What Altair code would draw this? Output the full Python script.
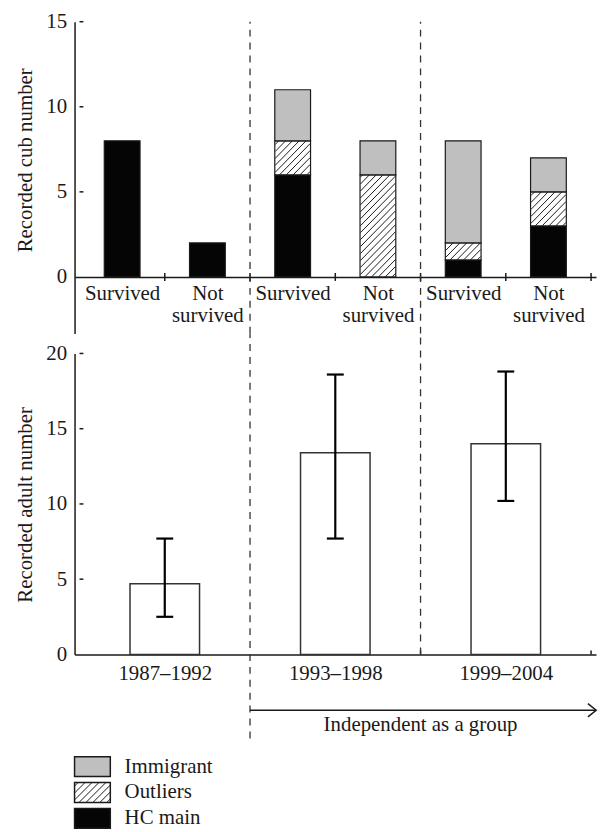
import json
import numpy as np
import pandas as pd
import altair as alt

FONT = "Liberation Serif"
FS = 21
INK = "#1a1a1a"

# ---------------- data ----------------
periods = ["1987–1992", "1993–1998", "1999–2004"]
outcomes = ["Survived", "Not survived"]
groups = ["HC main", "Outliers", "Immigrant"]          # stacking order, bottom -> top
group_fill = ["#050505", "#ffffff", "#bfbfbf"]

# recorded cub numbers, one value per (period, outcome) column
hc_main   = [8, 2, 6, 0, 1, 3]
outliers  = [0, 0, 2, 6, 1, 2]
immigrant = [0, 0, 3, 2, 6, 2]

# recorded adult numbers (mean and error bar ends)
adult_mean = [4.7, 13.4, 14.0]
adult_low  = [2.5, 7.7, 10.2]
adult_high = [7.7, 18.6, 18.8]

legend_items = ["Immigrant", "Outliers", "HC main"]
arrow_text = "Independent as a group"

# ---------------- geometry ----------------
TW, TH = 525, 314
T_YMIN, T_YMAX = -3.33, 15
tux = TW / 6.0
tuy = TH / (T_YMAX - T_YMIN)
CUB_BAR = 36

BW, BH = 525, 303
bux = BW / 3.0
buy = BH / 20.0
ADULT_BAR = 70

SPACING = 20
HATCH = 7.0


def hatch(xl, yb, w_px, h_px, ux, uy, sign=1.0):
    out = []
    for c in np.arange(-w_px + HATCH / 2, h_px, HATCH):
        xs = max(0.0, -c)
        xe = min(w_px, h_px - c)
        if xe - xs < 0.6:
            continue
        out.append({"hx1": xl + xs / ux, "hy1": yb + sign * (xs + c) / uy,
                    "hx2": xl + xe / ux, "hy2": yb + sign * (xe + c) / uy})
    return pd.DataFrame(out)


# ---------------- top panel ----------------
rows = []
for i in range(6):
    vals = [hc_main[i], outliers[i], immigrant[i]]
    for k, g in enumerate(groups):
        rows.append({"pos": i + 0.5, "group": g, "gorder": k, "value": vals[k]})
cub = pd.DataFrame(rows)

hl = []
for i in range(6):
    if outliers[i] > 0:
        xl = i + 0.5 - CUB_BAR / 2 / tux
        hl.append(hatch(xl, hc_main[i], CUB_BAR, outliers[i] * tuy, tux, tuy))
hatch_top = pd.concat(hl, ignore_index=True)

top_lines = [o.split(" ") for _ in periods for o in outcomes]
top_label_expr = json.dumps(top_lines, ensure_ascii=False) + "[floor(datum.value)]"

xs_top = alt.Scale(domain=[0, 6], nice=False, zero=False)
ys_top = alt.Scale(domain=[T_YMIN, T_YMAX], nice=False, zero=False)
fill_scale = alt.Scale(domain=groups, range=group_fill)

x_axis_top = alt.Axis(
    values=[i + 0.5 for i in range(6)], labelExpr=top_label_expr, ticks=False, tickSize=0,
    grid=False, title=None, domain=True, domainColor=INK, domainWidth=1.5,
    offset=-(-T_YMIN) * tuy, labelBaseline="top", labelLineHeight=22, labelPadding=6,
    labelOverlap=False, labelFlush=False, labelFont=FONT, labelFontSize=FS, labelColor=INK)
y_axis_top = alt.Axis(
    values=[0, 5, 10, 15], ticks=False, tickSize=0, grid=False, domain=True,
    domainColor=INK, domainWidth=1.5, labelPadding=8, labelFont=FONT, labelFontSize=FS,
    labelColor=INK, title="Recorded cub number", titleFont=FONT, titleFontSize=FS,
    titleFontWeight="normal", titleColor=INK, titleAngle=270, titleBaseline="alphabetic",
    titleX=-43, titleY=139)


def tx(field):
    return alt.X(field, scale=xs_top, axis=x_axis_top)


def ty(field):
    return alt.Y(field, scale=ys_top, axis=y_axis_top)


top_bars = alt.Chart(cub).transform_filter("datum.value > 0").mark_bar(
    size=CUB_BAR, stroke=INK, strokeWidth=1.2
).encode(
    x=tx("pos:Q"),
    y=alt.Y("value:Q", stack="zero", scale=ys_top, axis=y_axis_top),
    fill=alt.Fill("group:N", scale=fill_scale, legend=None),
    order=alt.Order("gorder:Q"),
)

top_hatch = alt.Chart(hatch_top).mark_rule(color=INK, strokeWidth=1).encode(
    x=tx("hx1:Q"), x2="hx2:Q", y=ty("hy1:Q"), y2="hy2:Q",
)

top_xticks = alt.Chart(pd.DataFrame({"t": [1, 2, 3, 4, 5, 6]})).mark_rule(
    color=INK, strokeWidth=1.5
).transform_calculate(lo=f"-{4 / tuy}", hi=f"{4 / tuy}").encode(
    x=tx("t:Q"), y=ty("lo:Q"), y2="hi:Q",
)

top_yticks = alt.Chart(pd.DataFrame({"v": [5, 10, 15]})).mark_rule(
    color=INK, strokeWidth=1.5
).transform_calculate(a="0", b=f"{4 / tux}").encode(
    x=tx("a:Q"), x2="b:Q", y=ty("v:Q"),
)

top_dash = alt.Chart(pd.DataFrame({"d": [2, 4]})).mark_rule(
    color="#333", strokeWidth=1.3, strokeDash=[7, 6]
).transform_calculate(lo=f"{T_YMIN}", hi=f"{T_YMAX}").encode(
    x=tx("d:Q"), y=ty("lo:Q"), y2="hi:Q",
)

top = alt.layer(top_bars, top_hatch, top_xticks, top_yticks, top_dash).properties(
    width=TW, height=TH)

# ---------------- bottom panel ----------------
adult = pd.DataFrame({"pos": [i + 0.5 for i in range(3)], "mean": adult_mean,
                      "lo": adult_low, "hi": adult_high})
xs_bot = alt.Scale(domain=[0, 3], nice=False, zero=False)
ys_bot = alt.Scale(domain=[0, 20], nice=False)
bot_label_expr = json.dumps(periods, ensure_ascii=False) + "[floor(datum.value)]"

x_axis_bot = alt.Axis(
    values=[0.5, 1.5, 2.5], labelExpr=bot_label_expr, ticks=False, tickSize=0, grid=False,
    title=None, domain=True, domainColor=INK, domainWidth=1.5, labelBaseline="top",
    labelPadding=8, labelOverlap=False, labelFlush=False, labelFont=FONT,
    labelFontSize=FS, labelColor=INK)
y_axis_bot = alt.Axis(
    values=[0, 5, 10, 15, 20], ticks=False, tickSize=0, grid=False, domain=True,
    domainColor=INK, domainWidth=1.5, labelPadding=8, labelFont=FONT, labelFontSize=FS,
    labelColor=INK, title="Recorded adult number", titleFont=FONT, titleFontSize=FS,
    titleFontWeight="normal", titleColor=INK, titleAngle=270, titleBaseline="alphabetic",
    titleX=-43, titleY=152)


def bx(field):
    return alt.X(field, scale=xs_bot, axis=x_axis_bot)


def by(field):
    return alt.Y(field, scale=ys_bot, axis=y_axis_bot)


bot_bars = alt.Chart(adult).mark_bar(
    size=ADULT_BAR, fill="white", stroke="#333", strokeWidth=1.5
).encode(x=bx("pos:Q"), y=by("mean:Q"))

bot_err = alt.Chart(adult).mark_rule(color="black", strokeWidth=2.2).encode(
    x=bx("pos:Q"), y=by("lo:Q"), y2="hi:Q")
bot_cap_lo = alt.Chart(adult).mark_tick(orient="horizontal", size=17, thickness=2.2,
                                        color="black", opacity=1).encode(
    x=bx("pos:Q"), y=by("lo:Q"))
bot_cap_hi = alt.Chart(adult).mark_tick(orient="horizontal", size=17, thickness=2.2,
                                        color="black", opacity=1).encode(
    x=bx("pos:Q"), y=by("hi:Q"))

bot_yticks = alt.Chart(pd.DataFrame({"v": [5, 10, 15, 20]})).mark_rule(
    color=INK, strokeWidth=1.5
).transform_calculate(a="0", b=f"{4 / bux}").encode(
    x=bx("a:Q"), x2="b:Q", y=by("v:Q"))
bot_xticks = alt.Chart(pd.DataFrame({"t": [2, 3]})).mark_rule(
    color=INK, strokeWidth=1.5
).transform_calculate(lo="0", hi=f"{4 / buy}").encode(
    x=bx("t:Q"), y=by("lo:Q"), y2="hi:Q")

gap_units = SPACING / buy
bot_dash = alt.Chart(pd.DataFrame({"d": [1, 2], "lo": [-5.58, 0],
                                   "hi": [20 + gap_units, 20 + gap_units]})).mark_rule(
    color="#333", strokeWidth=1.3, strokeDash=[7, 6]
).encode(x=bx("d:Q"), y=by("lo:Q"), y2="hi:Q")

ann = pd.DataFrame({"x0": [1.0], "x1": [3.03], "y": [-3.71], "tx": [2.0], "ty": [-5.12],
                    "label": [arrow_text]})
arrow_line = alt.Chart(ann).mark_rule(color=INK, strokeWidth=1.5).encode(
    x=bx("x0:Q"), x2="x1:Q", y=by("y:Q"))
arrow_head = alt.Chart(ann).mark_point(
    shape="M -1 -0.8 L 0 0 L -1 0.8", size=276, filled=False, stroke=INK,
    strokeWidth=1.5, opacity=1
).encode(x=bx("x1:Q"), y=by("y:Q"))
arrow_txt = alt.Chart(ann).mark_text(
    font=FONT, fontSize=FS, color=INK, align="center", baseline="alphabetic"
).encode(x=bx("tx:Q"), y=by("ty:Q"), text="label:N")

bottom = alt.layer(bot_bars, bot_err, bot_cap_lo, bot_cap_hi, bot_yticks, bot_xticks,
                   bot_dash, arrow_line, arrow_head, arrow_txt).properties(width=BW, height=BH)

# ---------------- legend panel ----------------
ROW = 26.0
LEG_TOP = 83.0          # px from panel top to first legend box
LW, LH = 36, 160
lux, luy = LW / 1.0, ROW
BOXH = 20 / luy
leg = pd.DataFrame({"group": legend_items, "i": [0, 1, 2]})
leg["y0"] = leg["i"]
leg["y1"] = leg["i"] + BOXH
leg["ym"] = leg["i"] + BOXH / 2
leg["x0"] = 0.0
leg["x1"] = 1.0
leg["tx"] = 1.40

k = legend_items.index("Outliers")
hatch_leg = hatch(0.0, k + BOXH, LW, 20, lux, luy, sign=-1.0)

xs_leg = alt.Scale(domain=[0, 1], nice=False, zero=False)
ys_leg = alt.Scale(domain=[-LEG_TOP / ROW, (LH - LEG_TOP) / ROW], nice=False, zero=False,
                   reverse=True)

leg_rect = alt.Chart(leg).mark_rect(stroke=INK, strokeWidth=1.5).encode(
    x=alt.X("x0:Q", scale=xs_leg, axis=None), x2="x1:Q",
    y=alt.Y("y0:Q", scale=ys_leg, axis=None), y2="y1:Q",
    fill=alt.Fill("group:N", scale=fill_scale, legend=None))
leg_hatch = alt.Chart(hatch_leg).mark_rule(color=INK, strokeWidth=1).encode(
    x=alt.X("hx1:Q", scale=xs_leg, axis=None), x2="hx2:Q",
    y=alt.Y("hy1:Q", scale=ys_leg, axis=None), y2="hy2:Q")
leg_text = alt.Chart(leg).mark_text(
    font=FONT, fontSize=FS, color=INK, align="left", baseline="middle"
).encode(x=alt.X("tx:Q", scale=xs_leg, axis=None), y=alt.Y("ym:Q", scale=ys_leg, axis=None),
         text="group:N")

legend = alt.layer(leg_rect, leg_hatch, leg_text).properties(width=LW, height=LH)

chart = alt.vconcat(top, bottom, legend, spacing=SPACING, bounds="flush").properties(
    padding={"left": 6, "top": 0, "right": 0, "bottom": 0}
).configure(background="white", font=FONT).configure_axis(
    labelFont=FONT, titleFont=FONT
).configure_text(font=FONT).configure_view(stroke=None)

chart.save("out.html", embed_options={"renderer": "svg", "actions": False})
